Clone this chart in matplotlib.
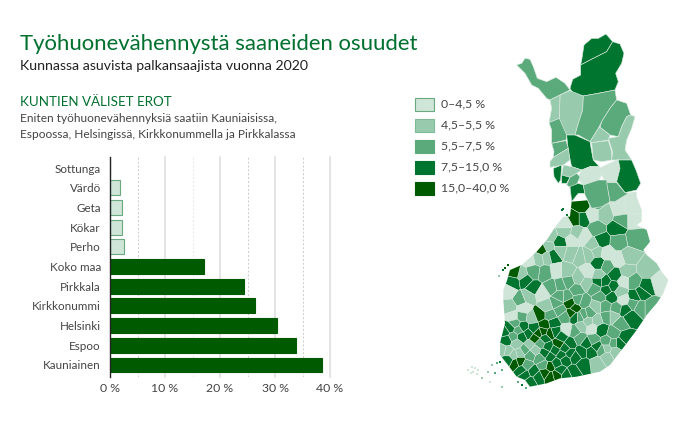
# Tyohuonevahennys chart: bars on the left, municipality map on the right
import matplotlib
matplotlib.use('Agg')
import matplotlib.pyplot as plt
from matplotlib.patches import Polygon

plt.rcParams['font.family'] = ['Lato', 'DejaVu Sans']

GREEN = '#00702f'
TEXT = '#444444'
COLORS = ['#cfe5d8', '#98cbae', '#5aaa7c', '#00752f', '#005a00']
EDGES = ['#6aa97f', '#7dba96', '#5aaa7c', '#00752f', '#005a00']
LINE = '#d8e9de'

# bar data, bottom to top
kunnat = ['Kauniainen', 'Espoo', 'Helsinki', 'Kirkkonummi', 'Pirkkala', 'Koko maa',
          'Perho', 'Kökar', 'Geta', 'Värdö', 'Sottunga']
osuudet = [38.6, 33.9, 30.4, 26.3, 24.3, 17.1, 2.6, 2.2, 2.1, 1.9, 0]
luokat = [4, 4, 4, 4, 4, 4, 0, 0, 0, 0, 0]
x_ticks = [0, 10, 20, 30, 40]
x_labels = ['0 %', '10 %', '20 %', '30 %', '40 %']
legend_labels = ['0–4,5 %', '4,5–5,5 %', '5,5–7,5 %', '7,5–15,0 %', '15,0–40,0 %']

# northern municipalities traced by hand, (class, outline) in pixels of the 3x crop
north = [
    (2, [(200,135),(215,130),(225,115),(240,118),(250,140),(262,175),(290,185),(318,172),(345,190),(360,210),(330,225),(300,240),(290,235),(265,205),(245,195),(225,160)]),
    (3, [(392,135),(395,120),(402,75),(425,55),(445,55),(468,42),(488,65),(470,95),(430,115)]),
    (3, [(488,65),(510,72),(522,100),(515,130),(497,160),(505,185),(495,210),(455,218),(400,228),(370,222),(360,205),(368,178),(392,165),(392,135),(430,115),(470,95)]),
    (1, [(330,225),(360,212),(400,228),(398,270),(385,310),(375,345),(350,345),(330,325),(328,280)]),
    (1, [(300,240),(330,225),(328,295),(297,308),(305,265)]),
    (2, [(400,228),(455,218),(495,210),(500,240),(480,265),(455,305),(445,325),(420,365),(385,345),(375,345),(385,310),(398,270)]),
    (2, [(500,240),(530,250),(542,285),(530,290),(515,320),(505,350),(480,345),(450,322),(455,305),(480,265)]),
    (1, [(542,285),(555,290),(545,325),(530,360),(525,390),(545,420),(505,420),(485,420),(488,395),(475,355),(505,350),(515,320),(530,290)]),
    (1, [(450,322),(480,345),(475,360),(425,368),(420,365),(445,325)]),
    (3, [(350,345),(375,345),(420,365),(425,395),(430,420),(448,440),(420,440),(395,450),(365,440),(355,395)]),
    (1, [(425,368),(475,362),(485,395),(485,420),(455,425),(430,420)]),
    (2, [(297,308),(328,295),(350,345),(348,360),(305,370),(305,330)]),
    (2, [(305,370),(348,362),(355,385),(310,412),(312,395)]),
    (1, [(310,412),(355,385),(360,420),(340,435),(300,442),(300,425)]),
    (3, [(310,445),(335,435),(332,480),(325,490),(312,470)]),
    (1, [(340,435),(365,440),(395,450),(380,460),(360,472),(335,465)]),
    (0, [(395,450),(420,440),(448,440),(458,462),(445,480),(400,495),(382,475)]),
    (0, [(458,440),(505,418),(510,440),(500,488),(470,490),(458,470),(448,445)]),
    (3, [(505,420),(545,420),(558,450),(572,490),(560,510),(525,518),(500,485),(510,445)]),
    (3, [(335,465),(360,472),(350,490),(335,490)]),
    (2, [(360,472),(380,460),(390,470),(382,490),(365,505),(350,495)]),
    (3, [(360,500),(385,490),(400,495),(405,520),(385,520),(365,545)]),
    (2, [(400,495),(445,480),(470,480),(480,545),(455,560),(425,565),(405,525)]),
    (2, [(470,488),(500,488),(525,518),(535,520),(495,545),(480,545)]),
]

# southern outline and one seed per municipality (x, y, class) in the lower crop
south_outline = [(365,5),(480,-5),(535,-22),(560,-25),(560,-10),(575,30),(575,65),(560,75),(590,90),(600,125),
    (580,150),(590,165),(620,190),(635,215),(655,240),(640,280),(620,310),(590,345),(560,390),(530,430),
    (480,495),(450,515),(380,530),(330,535),(290,550),(240,560),(225,540),(200,530),(170,490),(150,465),
    (150,430),(165,370),(160,300),(160,270),(170,245),(180,210),(215,195),(260,155),(290,120),(320,75),(340,50),(360,50)]
south_seeds = [(395,20,4),(375,55,4),(400,55,3),(440,5,2),(425,45,0),(465,45,1),(510,30,0),(545,25,0),(550,60,0),
    (515,60,2),(500,85,3),(440,85,2),(555,115,2),(505,125,2),(455,122,3),(535,170,1),(590,210,1),(625,250,0),
    (400,110,0),(345,95,1),(345,72,0),(300,110,1),(380,100,1),(430,135,1),(330,128,3),(295,140,1),(275,150,4),
    (240,180,0),(265,175,1),(290,170,1),(310,165,3),(330,150,1),(365,120,0),(365,160,1),(390,170,1),(415,165,1),
    (440,155,1),(445,190,3),(470,200,2),(470,160,0),(505,180,0),(530,215,1),(550,245,2),(520,245,0),(590,260,3),
    (555,290,3),(520,300,0),(600,320,2),(570,320,2),(540,350,3),(510,370,2),(465,245,3),(495,225,3),(485,290,3),
    (450,290,2),(445,225,1),(415,215,0),(385,235,1),(350,215,1),(320,215,0),(285,220,2),(250,215,2),(215,225,1),
    (195,220,4),(190,245,3),(225,240,3),(250,265,3),(275,280,0),(305,260,2),(330,255,2),(355,245,2),(380,270,2),
    (410,250,1),(435,265,2),(210,300,2),(175,275,0),(235,290,1),(180,320,1),(220,325,0),(190,350,0),(215,350,2),
    (245,355,1),(270,345,4),(320,310,2),(290,320,1),(350,290,2),(375,325,4),(400,305,2),(345,350,2),(375,350,3),
    (420,340,2),(440,320,1),(465,320,2),(500,325,2),(490,350,1),(455,390,3),(425,385,0),(395,380,1),(350,390,0),
    (375,395,2),(310,370,3),(285,375,4),(265,400,4),(300,400,4),(235,400,3),(180,385,3),(205,390,2),(170,420,3),
    (200,430,1),(240,435,1),(270,430,2),(325,432,4),(295,440,3),(360,430,3),(390,415,2),(430,420,2),(490,400,2),
    (525,415,3),(470,425,2),(425,455,3),(395,455,3),(360,460,3),(335,465,3),(300,470,3),(270,475,2),(240,465,2),
    (210,460,1),(175,455,1),(195,490,4),(250,515,3),(300,500,4),(330,510,3),(370,515,3),(470,470,1),(440,490,1),
    (400,495,3),(495,455,1),(300,530,4),(240,545,3),(215,510,3),
    (165,395,3),(195,370,2),(220,380,3),(250,385,3),(280,395,4),(255,415,4),(285,415,3),(315,395,3),(335,410,3),
    (215,410,3),(190,410,2),(155,450,1),(190,465,1),(225,450,2),(255,450,1),(285,460,3),(315,450,3),(345,445,3),
    (345,480,3),(375,470,3),(410,430,3),(440,440,3),(455,450,2),(470,445,1),(490,430,2),(510,430,3),(320,490,3),
    (280,495,2),(265,530,3),(285,520,4),(320,525,4),(350,525,3),(175,480,3),(210,485,4),(230,495,2),(225,525,3),
    (400,345,2),(390,350,2),(360,310,4),(385,300,2),(365,340,4),(330,330,2),(300,345,2),(330,290,2),(470,270,3),
    (445,245,3),(490,260,3),(510,275,1),(575,280,3),(550,310,2),(525,330,3),(470,350,2),(440,360,1),(415,365,1)]

# islets off the coast (x, y, class)
islets = [(55,510,0),(65,500,0),(75,505,0),(70,515,0),(85,510,0),(80,522,0),(62,518,0),(95,535,1),(115,515,1),
    (125,495,1),(140,490,2),(150,485,3),(155,510,2),(135,520,2),(165,205,4),(175,195,4),(160,210,3),(148,228,1),
    (340,28,3),(350,45,3),(335,30,3),(205,545,2),(215,555,3),(155,560,1),(120,545,0),(228,565,2)]


def upper(p):
    return (450 + p[0] / 3, 20 + p[1] / 3)


def lower(p):
    return (450 + p[0] / 3, 200 + p[1] / 3)


def voronoi_cell(i, seeds, box):
    # cut the box with the bisector against every other seed
    cell = box
    xi, yi = seeds[i][:2]
    for j, s in enumerate(seeds):
        if j == i:
            continue
        xj, yj = s[:2]
        nx, ny = xj - xi, yj - yi
        if nx == 0 and ny == 0:
            continue
        c = (xj**2 + yj**2 - xi**2 - yi**2) / 2
        out = []
        for k in range(len(cell)):
            a, b = cell[k], cell[(k + 1) % len(cell)]
            da = nx * a[0] + ny * a[1] - c
            db = nx * b[0] + ny * b[1] - c
            if da <= 0:
                out.append(a)
            if da * db < 0:
                t = da / (da - db)
                out.append((a[0] + t * (b[0] - a[0]), a[1] + t * (b[1] - a[1])))
        cell = out
        if not cell:
            break
    return cell


fig = plt.figure(figsize=(7, 4.26), dpi=100)
W, H = 700, 426

# full figure axes in pixels for text, legend and map
bg = fig.add_axes([0, 0, 1, 1])
bg.set_xlim(0, W)
bg.set_ylim(H, 0)
bg.axis('off')

bg.text(20, 44, 'Työhuonevähennystä saaneiden osuudet', fontsize=15.9, color=GREEN, va='center')
bg.text(20, 66, 'Kunnassa asuvista palkansaajista vuonna 2020', fontsize=10.2, color='#222222', va='center')
bg.text(20, 102, 'KUNTIEN VÄLISET EROT', fontsize=9.6, color=GREEN, va='center')
bg.text(20, 118, 'Eniten työhuonevähennyksiä saatiin Kauniaisissa,', fontsize=8.6, color=TEXT, va='center')
bg.text(20, 134, 'Espoossa, Helsingissä, Kirkkonummella ja Pirkkalassa', fontsize=8.6, color=TEXT, va='center')

# legend
for i, lab in enumerate(legend_labels):
    yc = 104 + 21 * i
    bg.add_patch(Polygon([(415, yc-6.5), (434, yc-6.5), (434, yc+6.5), (415, yc+6.5)],
                         facecolor=COLORS[i], edgecolor=EDGES[i], lw=0.8))
    bg.text(441, yc, lab, fontsize=8.8, color=TEXT, va='center')

# map, south first so the hand traced north sits on top
clip = Polygon([lower(p) for p in south_outline], closed=True, transform=bg.transData, fill=False, lw=0)
bg.add_patch(clip)
box = [(0, -200), (800, -200), (800, 700), (0, 700)]
for i, s in enumerate(south_seeds):
    cell = voronoi_cell(i, south_seeds, box)
    if cell:
        p = Polygon([lower(q) for q in cell], facecolor=COLORS[s[2]], edgecolor=LINE, lw=0.35)
        bg.add_patch(p)
        p.set_clip_path(clip)
for luokka, pts in north:
    bg.add_patch(Polygon([upper(q) for q in pts], facecolor=COLORS[luokka], edgecolor=LINE, lw=0.45))
for x, y, luokka in islets:
    px, py = lower((x, y))
    bg.plot(px, py, 's', ms=1.6, mew=0, color=COLORS[luokka])

# bars
ax = fig.add_axes([110 / W, 1 - 377 / H, 220 / W, 220 / H])
ax.patch.set_alpha(0)
y = list(range(len(kunnat)))
ax.barh(y, osuudet, height=0.76,
        color=[COLORS[l] for l in luokat],
        edgecolor=[EDGES[l] for l in luokat], linewidth=0.8, zorder=3)
ax.set_xlim(0, 40)
ax.set_ylim(-0.61, 10.57)
ax.set_yticks(y)
ax.set_yticklabels(kunnat, fontsize=8.4, color=TEXT)
ax.set_xticks(x_ticks)
ax.set_xticklabels(x_labels, fontsize=8.8, color=TEXT)
ax.tick_params(axis='y', length=0, pad=6.5)
ax.tick_params(axis='x', length=0, pad=4)
for v in [10, 20, 30, 40]:
    ax.axvline(v, color='#dddddd', lw=1.1, zorder=1, clip_on=False)
for v in [5, 25, 35]:
    ax.axvline(v, color='#cccccc', lw=0.7, ls=(0, (2, 2)), zorder=1)
ax.axvline(15, color='#e6e6e6', lw=0.7, ls=(0, (2, 2)), zorder=1)
for side in ['top', 'right', 'bottom']:
    ax.spines[side].set_visible(False)
ax.spines['left'].set_color('#222222')
ax.spines['left'].set_linewidth(1)
ax.spines['left'].set_zorder(5)

fig.savefig('out.png', dpi=100)
